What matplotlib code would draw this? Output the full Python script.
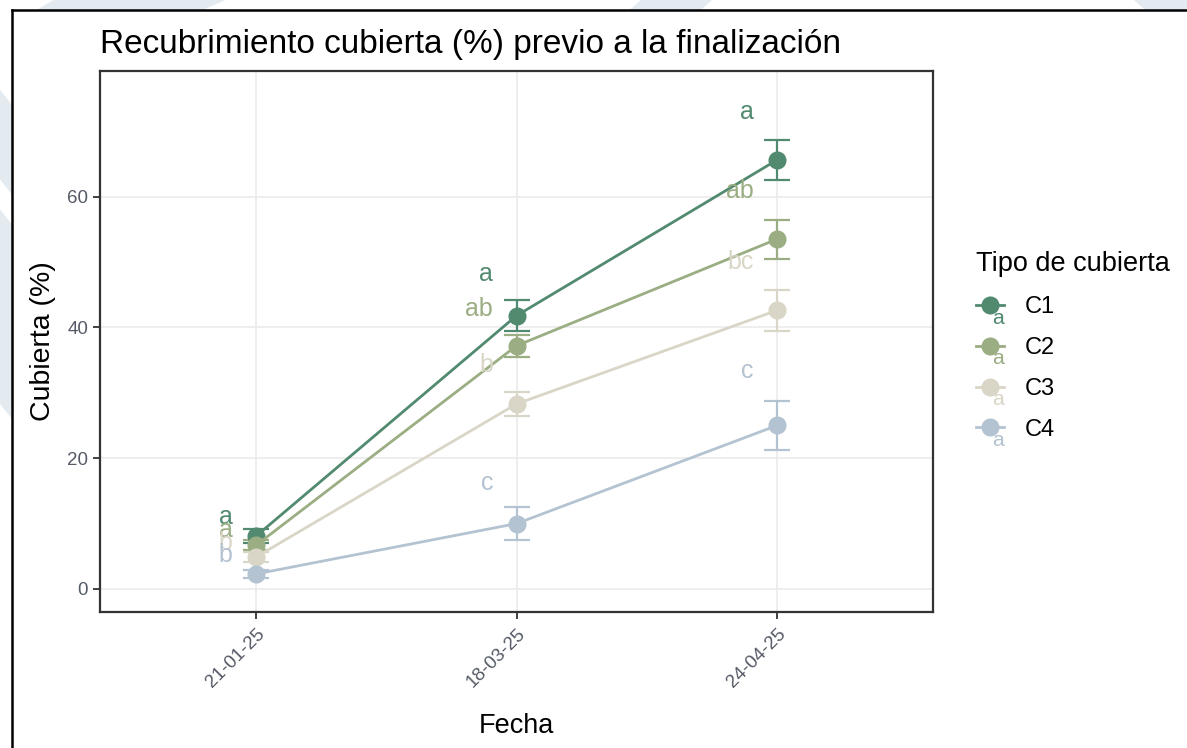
import numpy as np
import matplotlib
matplotlib.use("Agg")
import matplotlib.pyplot as plt
from matplotlib.lines import Line2D
from matplotlib.patches import Polygon
from matplotlib.text import Text
from matplotlib.legend_handler import HandlerLine2D

plt.rcParams['font.family'] = ['Liberation Sans', 'DejaVu Sans']

# ---- datos ----
fechas = ['21-01-25', '18-03-25', '24-04-25']
cubiertas = ['C1', 'C2', 'C3', 'C4']

media_c1 = [8.1, 41.8, 65.6]
media_c2 = [6.7, 37.2, 53.5]
media_c3 = [4.9, 28.3, 42.6]
media_c4 = [2.3, 10.0, 25.0]

ee_c1 = [1.0, 2.4, 3.0]
ee_c2 = [0.8, 1.7, 3.0]
ee_c3 = [0.8, 1.8, 3.1]
ee_c4 = [0.6, 2.5, 3.7]

letras_c1 = ['a', 'a', 'a']
letras_c2 = ['a', 'ab', 'ab']
letras_c3 = ['b', 'b', 'bc']
letras_c4 = ['b', 'c', 'c']

# altura de las letras
y_letra_c1 = [11.0, 48.1, 73.0]
y_letra_c2 = [9.0, 42.8, 60.8]
y_letra_c3 = [7.0, 34.3, 50.0]
y_letra_c4 = [5.2, 16.2, 33.3]

colores = ['#528a70', '#9bad83', '#d9d6c7', '#b4c3d1']

medias = [media_c1, media_c2, media_c3, media_c4]
errores = [ee_c1, ee_c2, ee_c3, ee_c4]
letras = [letras_c1, letras_c2, letras_c3, letras_c4]
y_letras = [y_letra_c1, y_letra_c2, y_letra_c3, y_letra_c4]


class HandlerLetra(HandlerLine2D):
    # clave de leyenda tipo ggplot: linea + punto + letra
    def create_artists(self, legend, orig_handle, xdescent, ydescent,
                       width, height, fontsize, trans):
        arts = super().create_artists(legend, orig_handle, xdescent, ydescent,
                                      width, height, fontsize, trans)
        t = Text(width * 0.8, -height * 0.3, 'a', color=orig_handle.get_color(),
                 fontsize=fontsize * 0.9, ha='center', va='center',
                 transform=trans)
        return list(arts) + [t]


fig = plt.figure(figsize=(11.87, 7.48), dpi=100)

# marca de agua de fondo
franjas = [
    [(0.045, 1.0), (0.19, 1.0), (0.17, 0.986), (0.03, 0.986)],
    [(0.54, 1.0), (0.60, 1.0), (0.59, 0.986), (0.53, 0.986)],
    [(0.955, 1.0), (1.0, 1.0), (1.0, 0.986), (0.965, 0.986)],
    [(0.0, 0.88), (0.01, 0.86), (0.01, 0.74), (0.0, 0.76)],
    [(0.0, 0.72), (0.01, 0.70), (0.01, 0.44), (0.0, 0.46)],
]
for fr in franjas:
    fig.patches.append(Polygon(fr, closed=True, transform=fig.transFigure,
                               facecolor='#e3ebf1', edgecolor='none', zorder=0))

# marco exterior negro
fig.add_artist(Line2D([0.0101, 0.0101], [0.0, 0.9866], color='black', lw=1.8,
                      transform=fig.transFigure))
fig.add_artist(Line2D([0.0101, 1.0], [0.9866, 0.9866], color='black', lw=1.8,
                      transform=fig.transFigure))

ax = fig.add_axes([0.0842, 0.182, 0.702, 0.723])
x = np.arange(1, len(fechas) + 1)

handles = []
for i in range(len(cubiertas)):
    ax.errorbar(x, medias[i], yerr=errores[i], fmt='none', ecolor=colores[i],
                elinewidth=1.6, capsize=9.5, capthick=1.6, zorder=3)
    h, = ax.plot(x, medias[i], '-o', color=colores[i], lw=2.0, markersize=12,
                 zorder=4, label=cubiertas[i])
    handles.append(h)
    for j in range(len(fechas)):
        ax.text(x[j] - 0.09, y_letras[i][j], letras[i][j], color=colores[i],
                fontsize=18, ha='right', va='center', zorder=5)

ax.set_xlim(0.4, 3.6)
ax.set_ylim(-3.5, 79.2)
ax.set_xticks(x)
ax.set_xticklabels(fechas, rotation=45, ha='right', va='top',
                   rotation_mode='anchor')
ax.set_yticks([0, 20, 40, 60])
ax.grid(True, color='#ebebeb', lw=1.2)
ax.set_axisbelow(True)
for s in ax.spines.values():
    s.set_color('#333333')
    s.set_linewidth(1.6)
ax.tick_params(colors='#333333', length=5, width=1.3, labelsize=13.5,
               labelcolor='#555a66')
ax.tick_params(axis='x', pad=5)

ax.set_xlabel('Fecha', fontsize=19.5, labelpad=16)
ax.set_ylabel('Cubierta (%)', fontsize=20.5, labelpad=8)
ax.set_title('Recubrimiento cubierta (%) previo a la finalización',
             fontsize=24, loc='left', pad=13)

leg = fig.legend(handles=handles, loc='upper left',
                 bbox_to_anchor=(0.812, 0.68), frameon=False,
                 title='Tipo de cubierta', title_fontsize=19.5, fontsize=17,
                 labelspacing=0.8, handlelength=1.2, handletextpad=0.9,
                 borderpad=0, handler_map={Line2D: HandlerLetra()})
leg._legend_box.align = 'left'

fig.savefig('out.png', dpi=100)
